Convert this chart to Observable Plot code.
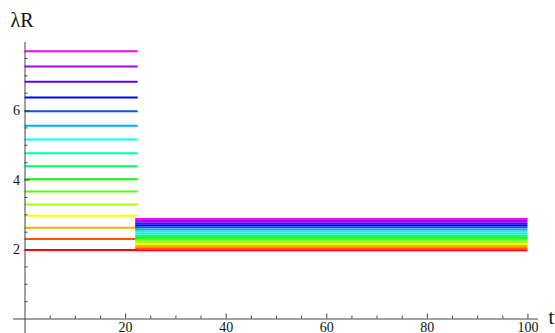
<!DOCTYPE html>
<html><head><meta charset="utf-8">
<script src="https://cdn.jsdelivr.net/npm/d3@7"></script>
<script src="https://cdn.jsdelivr.net/npm/@observablehq/plot@0.6"></script>
<style>body{margin:0;background:#fff} #chart svg{display:block;background:#fff}</style>
</head><body><div id="chart"></div>
<script>
// λR levels of the 16 series on the first segment (t from 0 to ~22.5)
const lamStart = [1.99, 2.30, 2.63, 2.97, 3.30, 3.67, 4.02, 4.40, 4.77, 5.17, 5.56, 5.98, 6.38, 6.83, 7.27, 7.71];
// λR levels of the 16 series on the second segment (t from ~22 to 100)
const lamEnd = [1.98, 2.04, 2.10, 2.16, 2.22, 2.28, 2.34, 2.40, 2.46, 2.52, 2.58, 2.64, 2.70, 2.76, 2.82, 2.88];
const seg1 = [0, 22.5];
const seg2 = [22, 100];
const xMajor = [20, 40, 60, 80, 100];
const xMinor = [5, 10, 15, 25, 30, 35, 45, 50, 55, 65, 70, 75, 85, 90, 95];
const yMajor = [2, 4, 6];
const yMinor = [0.5, 1, 1.5, 2.5, 3, 3.5, 4.5, 5, 5.5, 6.5, 7, 7.5];

const colors = lamStart.map((_, i) => d3.hsl(i * 20, 1, 0.5).formatHex());

const rows = [];
lamStart.forEach((v, i) => rows.push({t1: seg1[0], t2: seg1[1], y: v, c: colors[i]}));
lamEnd.forEach((v, i) => rows.push({t1: seg2[0], t2: seg2[1], y: v, c: colors[i]}));

const axisColor = "#444";
const font = "Liberation Serif";

const chart = Plot.plot({
  width: 555, height: 333,
  marginLeft: 13, marginRight: 17, marginTop: 42, marginBottom: 0,
  style: {fontFamily: font, background: "#fff"},
  x: {domain: [-2.29, 102.1], axis: null},
  y: {domain: [-0.417, 7.96], axis: null},
  color: {type: "identity"},
  marks: [
    Plot.ruleY(rows, {y: "y", x1: "t1", x2: "t2", stroke: "c", strokeWidth: 2}),
    // axes
    Plot.ruleX([0], {stroke: axisColor, strokeWidth: 1}),
    Plot.ruleY([0], {stroke: axisColor, strokeWidth: 1}),
    // x ticks (pointing up)
    Plot.ruleX(xMajor, {x: d => d, y1: 0, y2: 0, insetTop: -5, stroke: axisColor}),
    Plot.ruleX(xMinor, {x: d => d, y1: 0, y2: 0, insetTop: -3, stroke: axisColor}),
    // y ticks (pointing right)
    Plot.ruleY(yMajor, {y: d => d, x1: 0, x2: 0, insetRight: -5, stroke: axisColor}),
    Plot.ruleY(yMinor, {y: d => d, x1: 0, x2: 0, insetRight: -3, stroke: axisColor}),
    // tick labels
    Plot.text(xMajor, {x: d => d, y: 0, text: d => String(d), lineAnchor: "top", dy: 3, fontSize: 14, fontFamily: font, fill: "#111"}),
    Plot.text(yMajor, {x: 0, y: d => d, text: d => String(d), textAnchor: "end", dx: -5, fontSize: 14, fontFamily: font, fill: "#111"}),
    // axis labels
    Plot.text(["λR"], {frameAnchor: "top-left", text: d => d, textAnchor: "start", lineAnchor: "middle", dx: -3, dy: -22, fontSize: 20, fontFamily: font, fill: "#111"}),
    Plot.text(["t"], {x: 102.1, y: 0, text: d => d, textAnchor: "start", lineAnchor: "middle", dx: 10, dy: -1, fontSize: 20, fontFamily: font, fill: "#111"})
  ]
});
document.getElementById("chart").appendChild(chart);
</script>
</body></html>
